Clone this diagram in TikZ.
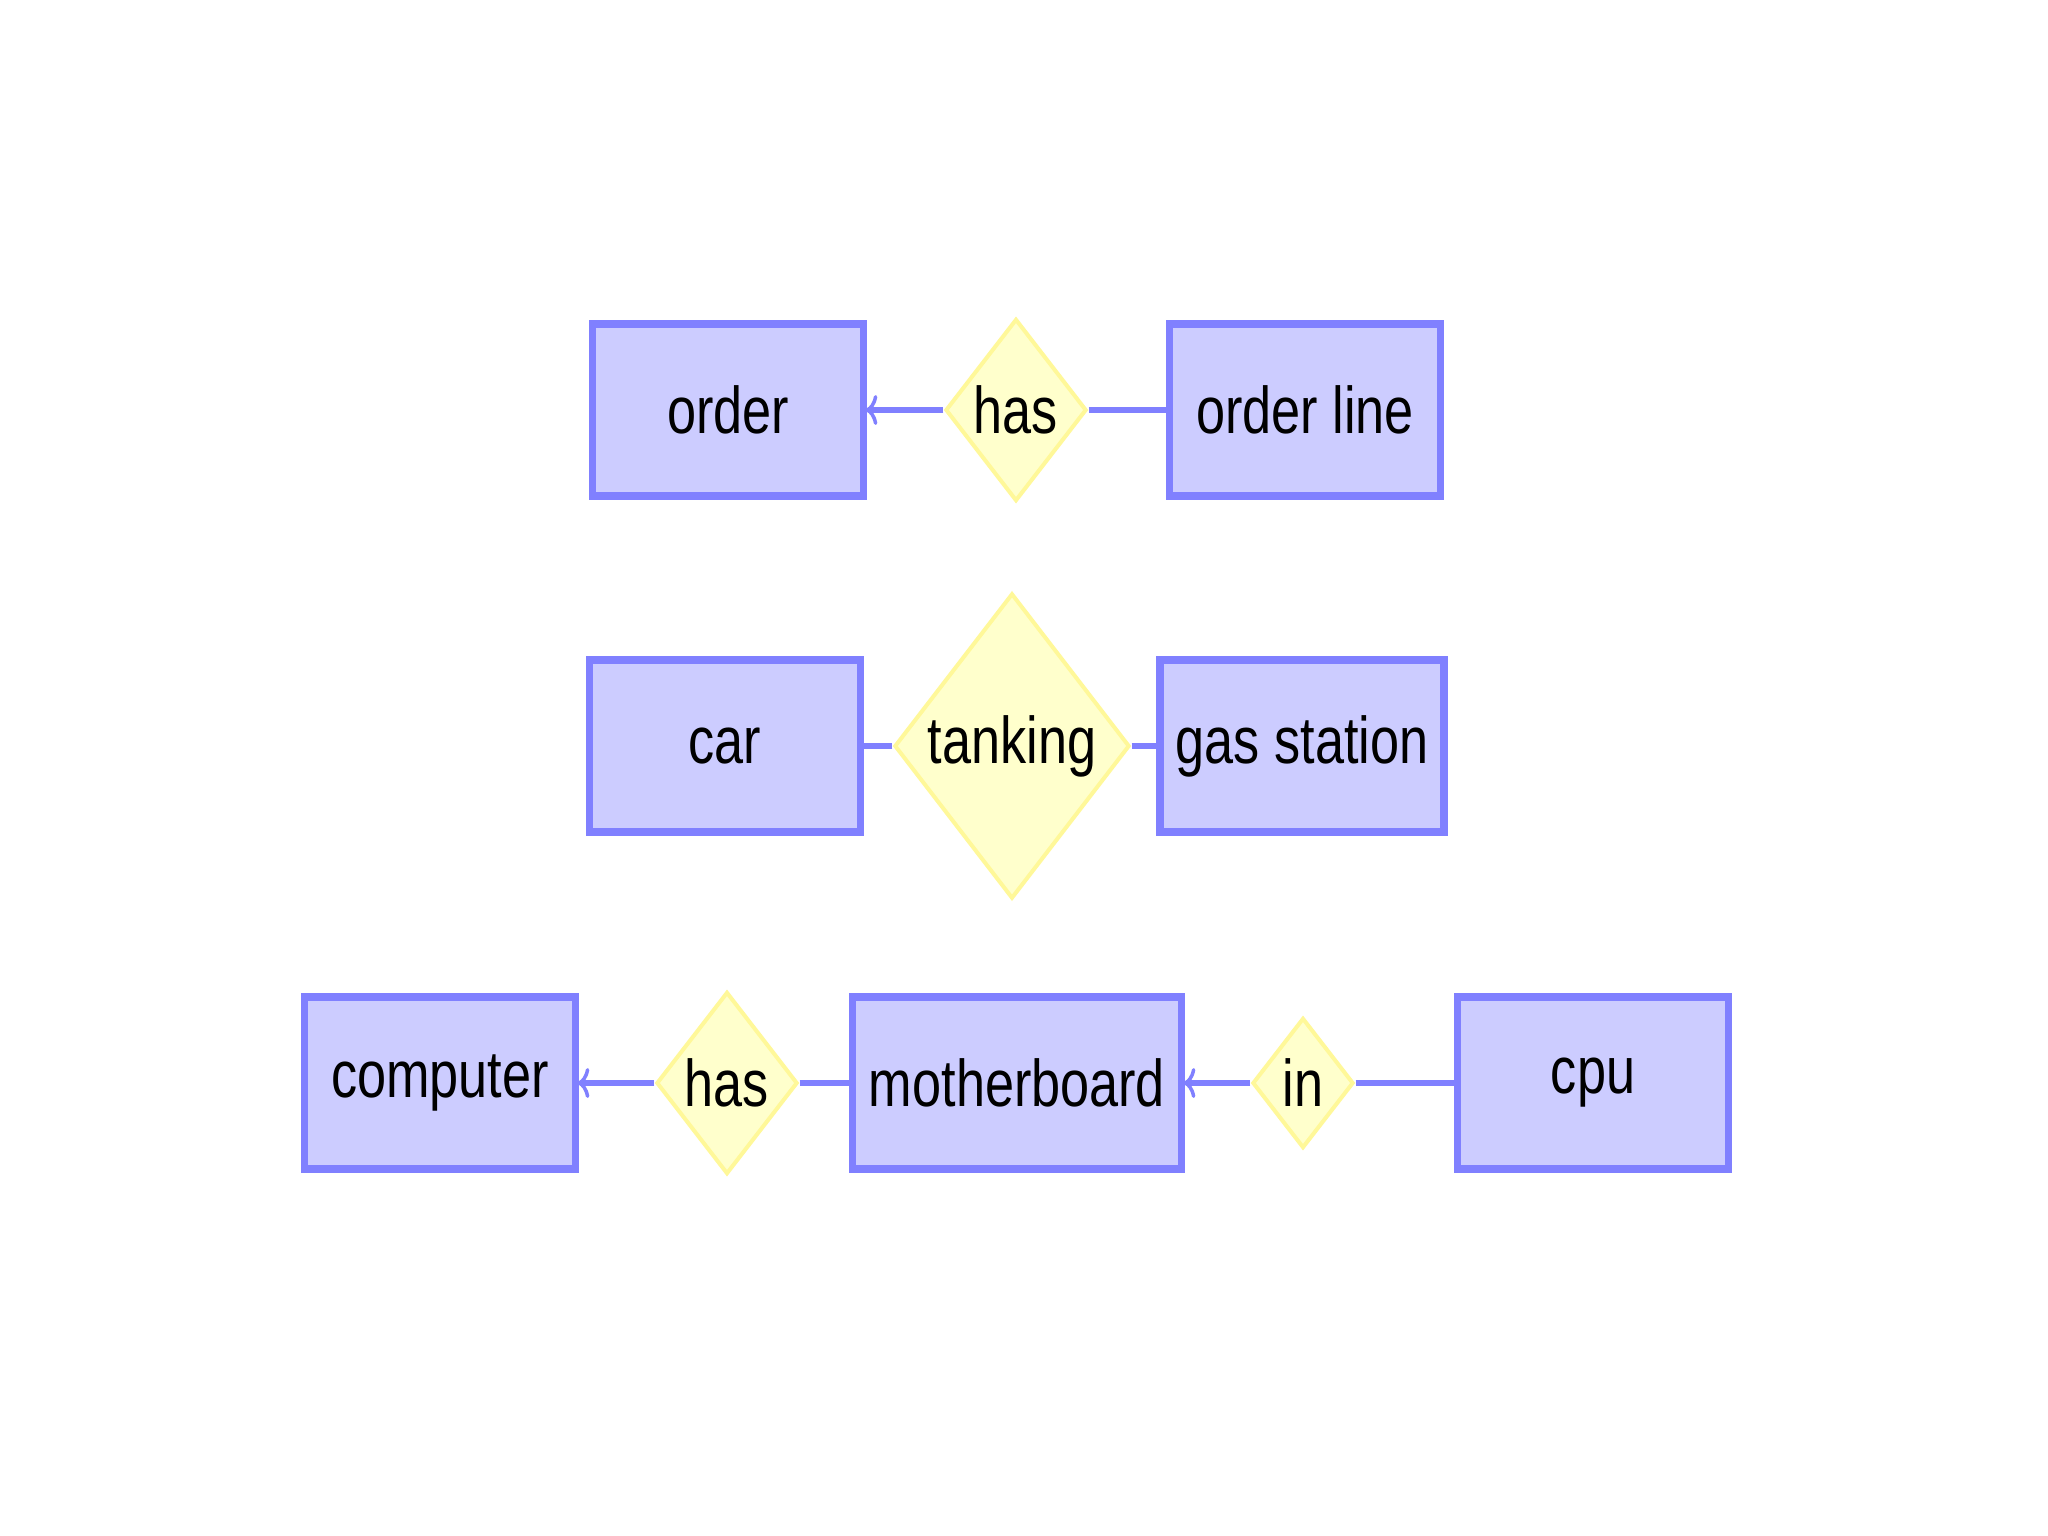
\documentclass[tikz,border=0pt]{standalone}
\usepackage{fontspec}
\setmainfont{Liberation Sans}
\usetikzlibrary{shapes.geometric,arrows.meta}
\definecolor{boxfill}{HTML}{CCCCFF}
\definecolor{boxline}{HTML}{8080FF}
\definecolor{dfill}{HTML}{FFFFCC}
\definecolor{dline}{HTML}{FFF899}
\newcommand{\lbl}[1]{\scalebox{0.79}[1]{#1}}
\begin{document}
\begin{tikzpicture}[x=0.01cm,y=-0.01cm,
  entity/.style={draw=boxline, fill=boxfill, line width=0.075cm,
    minimum height=1.72cm, minimum width=2.71cm, inner sep=0pt,
    font=\fontsize{18.8}{22}\selectfont},
  rel/.style={diamond, draw=dline, fill=dfill, line width=0.04cm,
    inner sep=0pt, aspect=1, font=\fontsize{18.8}{22}\selectfont},
  link/.style={draw=boxline, line width=0.065cm},
  arr/.style={link, -{To[length=0.12cm,width=0.3cm,line width=0.035cm]}, shorten >=-0.02cm}]
\useasboundingbox[fill=white] (0,0) rectangle (2048,1536);

% row 1
\node[entity] (order) at (728,410) {\lbl{order}};
\node[rel, minimum width=1.41cm, minimum height=1.82cm] (has1) at (1016,410) {\lbl{has}};
\node[entity] (oline) at (1305,410) {\lbl{order line}};

% row 2
\node[entity] (car) at (725,746) {\lbl{car}};
\node[rel, minimum width=2.35cm, minimum height=3.05cm] (tank) at (1012,746) {\lbl{tanking}};
\node[entity, minimum width=2.84cm] (gas) at (1302,746) {\lbl{gas station}};

% row 3
\node[entity] (comp) at (440,1083) {\lbl{computer}};
\node[rel, minimum width=1.41cm, minimum height=1.82cm] (has2) at (727,1083) {\lbl{has}};
\node[entity, minimum width=3.29cm] (mb) at (1017,1083) {\lbl{motherboard}};
\node[rel, minimum width=1.01cm, minimum height=1.30cm] (in) at (1303,1083) {\lbl{in}};
\node[entity] (cpu) at (1593,1083) {\lbl{cpu}};

% connectors
\draw[arr] (has1.west) -- (order.east);
\draw[link] (has1.east) -- (oline.west);
\draw[link] (tank.west) -- (car.east);
\draw[link] (tank.east) -- (gas.west);
\draw[arr] (has2.west) -- (comp.east);
\draw[link] (has2.east) -- (mb.west);
\draw[arr] (in.west) -- (mb.east);
\draw[link] (in.east) -- (cpu.west);
\end{tikzpicture}
\end{document}
